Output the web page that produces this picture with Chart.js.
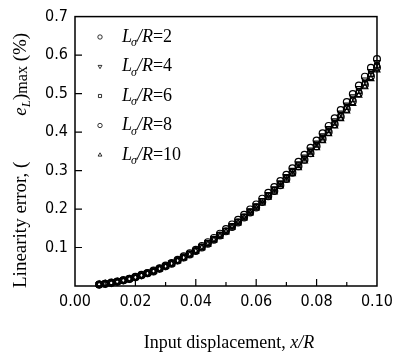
<!DOCTYPE html>
<html>
<head>
<meta charset="utf-8">
<script src="https://cdn.jsdelivr.net/npm/chart.js@4.4.1/dist/chart.umd.min.js"></script>
<style>
  html, body { margin: 0; padding: 0; background: #fff; }
  #wrap { width: 399px; height: 356px; }
</style>
</head>
<body>
<div id="wrap"><canvas id="chart" width="399" height="356"></canvas></div>
<script>
// input displacement x/R
const xValues = [0.008, 0.010, 0.012, 0.014, 0.016, 0.018, 0.020, 0.022, 0.024, 0.026,
    0.028, 0.030, 0.032, 0.034, 0.036, 0.038, 0.040, 0.042, 0.044, 0.046,
    0.048, 0.050, 0.052, 0.054, 0.056, 0.058, 0.060, 0.062, 0.064, 0.066,
    0.068, 0.070, 0.072, 0.074, 0.076, 0.078, 0.080, 0.082, 0.084, 0.086,
    0.088, 0.090, 0.092, 0.094, 0.096, 0.098, 0.100];

// linearity error (%) per L/R ratio
const lr2 = [0.004, 0.006, 0.009, 0.012, 0.015, 0.019, 0.024, 0.029, 0.034, 0.040,
    0.046, 0.053, 0.060, 0.068, 0.077, 0.085, 0.094, 0.104, 0.114, 0.125,
    0.136, 0.148, 0.160, 0.172, 0.185, 0.199, 0.212, 0.227, 0.242, 0.257,
    0.273, 0.289, 0.306, 0.323, 0.341, 0.359, 0.378, 0.397, 0.416, 0.436,
    0.457, 0.478, 0.499, 0.521, 0.544, 0.567, 0.590];
const lr4 = [0.004, 0.006, 0.008, 0.011, 0.015, 0.019, 0.023, 0.028, 0.034, 0.039,
    0.046, 0.052, 0.060, 0.067, 0.075, 0.084, 0.093, 0.103, 0.113, 0.123,
    0.134, 0.145, 0.157, 0.169, 0.182, 0.196, 0.209, 0.223, 0.238, 0.253,
    0.269, 0.285, 0.301, 0.318, 0.336, 0.354, 0.372, 0.391, 0.410, 0.430,
    0.450, 0.471, 0.492, 0.514, 0.536, 0.558, 0.581];
const lr6 = [0.004, 0.006, 0.008, 0.011, 0.015, 0.019, 0.023, 0.028, 0.033, 0.039,
    0.045, 0.052, 0.059, 0.066, 0.074, 0.083, 0.092, 0.101, 0.111, 0.121,
    0.132, 0.143, 0.155, 0.167, 0.180, 0.193, 0.206, 0.220, 0.235, 0.250,
    0.265, 0.281, 0.297, 0.314, 0.331, 0.349, 0.367, 0.386, 0.405, 0.424,
    0.444, 0.465, 0.485, 0.507, 0.528, 0.551, 0.573];
const lr8 = [0.004, 0.006, 0.008, 0.011, 0.015, 0.018, 0.023, 0.028, 0.033, 0.038,
    0.045, 0.051, 0.058, 0.066, 0.074, 0.082, 0.091, 0.100, 0.110, 0.120,
    0.131, 0.142, 0.153, 0.165, 0.178, 0.191, 0.204, 0.218, 0.233, 0.247,
    0.262, 0.278, 0.294, 0.311, 0.328, 0.345, 0.363, 0.382, 0.400, 0.420,
    0.440, 0.460, 0.480, 0.501, 0.523, 0.545, 0.568];
const lr10 = [0.004, 0.006, 0.008, 0.011, 0.014, 0.018, 0.022, 0.027, 0.032, 0.038,
    0.044, 0.050, 0.057, 0.065, 0.073, 0.081, 0.090, 0.099, 0.108, 0.119,
    0.129, 0.140, 0.152, 0.163, 0.176, 0.189, 0.202, 0.215, 0.230, 0.244,
    0.259, 0.275, 0.291, 0.307, 0.324, 0.341, 0.359, 0.377, 0.395, 0.415,
    0.434, 0.454, 0.474, 0.495, 0.517, 0.538, 0.561];

const ratioLabels = ['2', '4', '6', '8', '10'];
const seriesValues = [lr2, lr4, lr6, lr8, lr10];
const markerStyles = ['circle', 'triangle', 'rect', 'circle', 'triangle'];
const markerRotation = [0, 180, 0, 0, 0];

const SERIF = '"Liberation Serif", "Times New Roman", serif';
const NARROW = '"Liberation Sans Narrow", "DejaVu Sans Condensed", "Liberation Sans", sans-serif';

const datasets = seriesValues.map((vals, i) => ({
    label: 'L/R=' + ratioLabels[i],
    data: vals.map((v, j) => ({ x: xValues[j], y: v })),
    showLine: false,
    pointStyle: markerStyles[i],
    rotation: markerRotation[i],
    pointRadius: 3.4,
    pointBorderWidth: 1.2,
    borderColor: '#000',
    backgroundColor: 'rgba(0,0,0,0)',
    clip: false
}));

/**
 * Frame, inside ticks, legend and axis titles.
 */
const decorPlugin = {
    id: 'decor',
    afterDraw(chart) {
        const { ctx, chartArea: a, scales: { x, y } } = chart;
        ctx.save();
        ctx.strokeStyle = '#000';
        ctx.lineWidth = 1.5;
        ctx.strokeRect(a.left, a.top, a.right - a.left, a.bottom - a.top);

        // inward ticks
        ctx.lineWidth = 1.2;
        ctx.beginPath();
        for (let k = 1; k < 10; k++) {
            const px = x.getPixelForValue(k / 100);
            const len = k % 2 === 0 ? 7 : 4;
            ctx.moveTo(px, a.bottom);
            ctx.lineTo(px, a.bottom - len);
        }
        for (let k = 1; k < 7; k++) {
            const py = y.getPixelForValue(k / 10);
            ctx.moveTo(a.left, py);
            ctx.lineTo(a.left + 7, py);
        }
        ctx.stroke();

        // legend
        const legX = 100, textX = 122;
        chart.data.datasets.forEach((ds, i) => {
            const ly = 37 + i * 29.5;
            ctx.lineWidth = 0.8;
            ctx.strokeStyle = '#000';
            ctx.fillStyle = 'rgba(0,0,0,0)';
            Chart.helpers.drawPoint(ctx, {
                pointStyle: ds.pointStyle, rotation: ds.rotation,
                radius: 2.2, borderWidth: 0.8
            }, legX, ly);
            ctx.fillStyle = '#000';
            ctx.textBaseline = 'middle';
            ctx.textAlign = 'left';
            let cx = textX;
            ctx.font = 'italic 18px ' + SERIF;
            ctx.fillText('L', cx, ly);
            cx += ctx.measureText('L').width - 1;
            ctx.font = 'italic 12px ' + SERIF;
            ctx.fillText('\u03C3', cx, ly + 6);
            cx += ctx.measureText('\u03C3').width;
            ctx.font = 'italic 18px ' + SERIF;
            ctx.fillText('/R', cx, ly);
            cx += ctx.measureText('/R').width;
            ctx.font = '18px ' + SERIF;
            ctx.fillText('=' + ratioLabels[i], cx, ly);
        });

        // x title
        ctx.textBaseline = 'alphabetic';
        const part1 = 'Input displacement, ';
        ctx.font = 'italic 18px ' + SERIF;
        const w2 = ctx.measureText('x/R').width;
        ctx.font = '18px ' + SERIF;
        const w1 = ctx.measureText(part1).width;
        const tx = 229 - (w1 + w2) / 2;
        ctx.fillText(part1, tx, 348);
        ctx.font = 'italic 18px ' + SERIF;
        ctx.fillText('x/R', tx + w1, 348);

        // y title (rotated)
        ctx.save();
        ctx.translate(26, 0);
        ctx.rotate(-Math.PI / 2);
        let ty = -288;
        const seg = (txt, font, dy) => {
            ctx.font = font;
            ctx.fillText(txt, ty, dy || 0);
            ty += ctx.measureText(txt).width;
        };
        seg('Linearity error, (', '19px ' + SERIF);
        ty += 46;
        seg('e', 'italic 19px ' + SERIF);
        seg('L', 'italic 13px ' + SERIF, 4);
        seg(')', '19px ' + SERIF);
        seg('max', '16px ' + SERIF, 1);
        seg(' (%)', '19px ' + SERIF);
        ctx.restore();

        ctx.restore();
    }
};

new Chart(document.getElementById('chart'), {
    type: 'scatter',
    data: { datasets },
    options: {
        responsive: false,
        animation: false,
        layout: { padding: { top: 12, right: 14, left: 0, bottom: 0 } },
        plugins: {
            legend: { display: false },
            tooltip: { enabled: false }
        },
        scales: {
            x: {
                type: 'linear',
                min: 0,
                max: 0.1,
                afterFit: (s) => { s.height = 70; },
                grid: { display: true, drawOnChartArea: false, drawTicks: false },
                border: { display: false },
                ticks: {
                    stepSize: 0.02,
                    padding: 6,
                    color: '#000',
                    font: { family: NARROW, size: 16 },
                    maxRotation: 0,
                    callback: (v) => v.toFixed(2)
                }
            },
            y: {
                min: 0,
                max: 0.7,
                afterFit: (s) => { s.width = 75; },
                grid: { display: true, drawOnChartArea: false, drawTicks: false },
                border: { display: false },
                ticks: {
                    stepSize: 0.1,
                    padding: 7,
                    color: '#000',
                    font: { family: NARROW, size: 16 },
                    callback: (v) => (v === 0 ? '' : v.toFixed(1))
                }
            }
        }
    },
    plugins: [decorPlugin]
});
</script>
</body>
</html>
